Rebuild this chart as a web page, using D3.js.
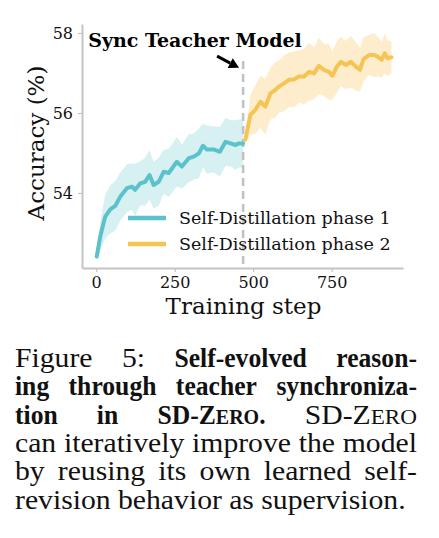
<!DOCTYPE html>
<html>
<head>
<meta charset="utf-8">
<script src="https://cdn.jsdelivr.net/npm/d3@7"></script>
<style>
  html, body { margin: 0; padding: 0; background: #fff; }
  svg { display: block; }
</style>
</head>
<body>
<div id="chart"></div>
<script>
'use strict';

/************************* data *************************/

var steps1 = [2, 13, 29, 45, 61, 77, 98, 114, 124, 140, 156, 170, 183, 199, 215, 231,
              257, 273, 295, 311, 327, 340, 353, 374, 394, 412, 428, 444, 454, 468];
var acc1   = [52.41, 52.91, 53.41, 53.59, 53.68, 53.91, 54.12, 54.16, 54.08, 54.24, 54.28,
              54.45, 54.2, 54.28, 54.53, 54.5, 54.78, 54.66, 54.87, 54.91, 54.99, 55.18,
              55.09, 55.09, 55.03, 55.28, 55.24, 55.2, 55.24, 55.24];
var err1   = [0.1, 0.35, 0.55, 0.6, 0.62, 0.6, 0.6, 0.58, 0.65, 0.55, 0.6, 0.62, 0.58, 0.6,
              0.55, 0.6, 0.62, 0.55, 0.6, 0.58, 0.62, 0.55, 0.6, 0.58, 0.62, 0.6, 0.58,
              0.62, 0.6, 0.6];

var steps2 = [475, 491, 507, 523, 539, 555, 571, 582, 598, 614, 630, 646, 662, 678, 694,
              709, 725, 741, 752, 766, 779, 795, 811, 827, 840, 851, 869, 885, 896, 909,
              919, 928, 940];
var acc2   = [55.33, 55.95, 56.08, 56.28, 56.16, 56.49, 56.58, 56.66, 56.74, 56.83, 56.84,
              56.91, 56.91, 57.03, 56.99, 57.18, 57.08, 57.03, 56.93, 57.15, 57.28, 57.2,
              57.28, 57.16, 57.08, 57.34, 57.45, 57.45, 57.41, 57.33, 57.49, 57.37, 57.39];
var err2   = [0.05, 0.5, 0.6, 0.65, 0.7, 0.65, 0.7, 0.65, 0.7, 0.68, 0.7, 0.65, 0.7, 0.72,
              0.65, 0.7, 0.65, 0.7, 0.6, 0.65, 0.62, 0.6, 0.65, 0.6, 0.55, 0.55, 0.5, 0.55,
              0.5, 0.45, 0.5, 0.45, 0.4];

var xTicks = [0, 250, 500, 750];
var yTicks = [54, 56, 58];
var syncStep = 468;
var seriesNames = ["Self-Distillation phase 1", "Self-Distillation phase 2"];
var annotationText = "Sync Teacher Model";

/******************************* dimensions **********************************/

var width = 439, height = 538;
var plotLeft = 82, plotRight = 403, plotTop = 24, plotBottom = 268;
var tealLine = "#5bc2cc", tealBand = "#d7f0f2";
var gold = "#f6c452", goldBand = "#fdedcc";
var spine = "#c4c4c4";
var serif = "'DejaVu Serif', serif";

var svg = d3.select("#chart").append("svg")
    .attr("width", width).attr("height", height);

var x = d3.scaleLinear().domain([-45, 977]).range([plotLeft, plotRight]);
var y = d3.scaleLinear().domain([52.125, 58.225]).range([plotBottom, plotTop]);

/******************************* bands + lines *******************************/

function rows(s, a, e) {
  return s.map(function(d, i) { return {s: d, a: a[i], e: e[i]}; });
}
var phase1 = rows(steps1, acc1, err1);
var phase2 = rows(steps2, acc2, err2);

var area = d3.area()
    .x(function(d) { return x(d.s); })
    .y0(function(d) { return y(d.a - d.e); })
    .y1(function(d) { return y(d.a + d.e); });
var line = d3.line()
    .x(function(d) { return x(d.s); })
    .y(function(d) { return y(d.a); });

svg.append("path").datum(phase1).attr("d", area).attr("fill", tealBand);
svg.append("path").datum(phase2).attr("d", area).attr("fill", goldBand);

// dashed sync marker
svg.append("line")
    .attr("x1", x(syncStep)).attr("x2", x(syncStep))
    .attr("y1", y(57.3)).attr("y2", plotBottom)
    .attr("stroke", "#c2c2c2").attr("stroke-width", 2.6)
    .attr("stroke-dasharray", "8,5");

svg.append("path").datum(phase1).attr("d", line)
    .attr("fill", "none").attr("stroke", tealLine).attr("stroke-width", 4)
    .attr("stroke-linejoin", "round").attr("stroke-linecap", "round");
svg.append("path").datum(phase2).attr("d", line)
    .attr("fill", "none").attr("stroke", gold).attr("stroke-width", 4)
    .attr("stroke-linejoin", "round").attr("stroke-linecap", "round");

/*********************************** axes ************************************/

var yAxis = svg.append("g").attr("transform", "translate(" + plotLeft + ",0)")
    .call(d3.axisLeft(y).tickValues(yTicks).tickFormat(d3.format("d"))
      .tickSize(4).tickSizeOuter(0).tickPadding(5));
var xAxis = svg.append("g").attr("transform", "translate(0," + plotBottom + ")")
    .call(d3.axisBottom(x).tickValues(xTicks).tickFormat(d3.format("d"))
      .tickSize(4).tickSizeOuter(0).tickPadding(5));

[xAxis, yAxis].forEach(function(g) {
  g.select(".domain").attr("stroke", spine).attr("stroke-width", 2);
  g.selectAll(".tick line").attr("stroke", spine).attr("stroke-width", 1.2);
  g.selectAll(".tick text").attr("fill", "#111").style("font-family", serif).style("font-size", "16px");
});

svg.append("text")
    .attr("x", (plotLeft + plotRight) / 2 + 1).attr("y", 314)
    .attr("text-anchor", "middle")
    .style("font-family", serif).style("font-size", "23px").attr("fill", "#111")
    .text("Training step");

svg.append("text")
    .attr("transform", "translate(44," + 143 + ") rotate(-90)")
    .attr("text-anchor", "middle")
    .style("font-family", serif).style("font-size", "23px").attr("fill", "#111")
    .text("Accuracy (%)");

/********************************** legend ***********************************/

var legend = svg.append("g");
[tealLine, gold].forEach(function(c, i) {
  var ly = 218 + i * 26;
  legend.append("line").attr("x1", 128).attr("x2", 166).attr("y1", ly).attr("y2", ly)
      .attr("stroke", c).attr("stroke-width", 4.5);
  legend.append("text").attr("x", 179).attr("y", ly + 6)
      .style("font-family", serif).style("font-size", "17.5px").attr("fill", "#111")
      .text(seriesNames[i]);
});

/******************************** annotation *********************************/

svg.append("text")
    .attr("x", x(-25)).attr("y", y(57.65))
    .style("font-family", serif).style("font-size", "19px").style("font-weight", "bold")
    .attr("fill", "#000")
    .text(annotationText);

var ax0 = x(385), ay0 = y(57.42), ax1 = x(455), ay1 = y(57.13);
var ang = Math.atan2(ay1 - ay0, ax1 - ax0);
var headLen = 10, headW = 5.5;
var bx = ax1 - headLen * Math.cos(ang), by = ay1 - headLen * Math.sin(ang);
svg.append("line").attr("x1", ax0).attr("y1", ay0).attr("x2", bx).attr("y2", by)
    .attr("stroke", "#000").attr("stroke-width", 3);
svg.append("path")
    .attr("d", "M" + ax1 + "," + ay1 +
               "L" + (bx - headW * Math.sin(ang)) + "," + (by + headW * Math.cos(ang)) +
               "L" + (bx + headW * Math.sin(ang)) + "," + (by - headW * Math.cos(ang)) + "Z")
    .attr("fill", "#000");

/********************************** caption **********************************/

// each word is a list of segments: [text, bold, smallcaps]
var captionLines = [
  [[["Figure", 0]], [["5:", 0]], [["Self-evolved", 1]], [["reason-", 1]]],
  [[["ing", 1]], [["through", 1]], [["teacher", 1]], [["synchroniza-", 1]]],
  [[["tion", 1]], [["in", 1]], [["SD-Z", 1], ["ERO", 1, 1], [".", 1]], [["SD-Z", 0], ["ERO", 0, 1]]],
  [[["can", 0]], [["iteratively", 0]], [["improve", 0]], [["the", 0]], [["model", 0]]],
  [[["by", 0]], [["reusing", 0]], [["its", 0]], [["own", 0]], [["learned", 0]], [["self-", 0]]],
  [[["revision", 0]], [["behavior", 0]], [["as", 0]], [["supervision.", 0]]]
];
var capLeft = 15, capRight = 417, capTop = 367, capStep = 28.3, capSize = 27;
var capFont = "'Liberation Serif', serif";
var stretchRegular = 1.1, stretchBold = 0.95;

var caption = svg.append("g");
captionLines.forEach(function(words, li) {
  var by = capTop + li * capStep;
  var nodes = words.map(function(segs) {
    var t = caption.append("text")
        .style("font-family", capFont).style("font-size", capSize + "px").attr("fill", "#111");
    segs.forEach(function(s) {
      t.append("tspan").text(s[0])
          .style("font-weight", s[1] ? "bold" : "normal")
          .style("font-size", s[2] ? (capSize * 0.78) + "px" : null);
    });
    return t;
  });
  var k = words.map(function(segs) { return segs[0][1] ? stretchBold : stretchRegular; });
  var widths = nodes.map(function(t, i) { return t.node().getComputedTextLength() * k[i]; });
  var total = d3.sum(widths);
  var last = li === captionLines.length - 1;
  var gap = last ? capSize * 0.27 : (capRight - capLeft - total) / (nodes.length - 1);
  var cx = capLeft;
  nodes.forEach(function(t, i) {
    t.attr("transform", "translate(" + cx + "," + by + ") scale(" + k[i] + ",1)");
    cx += widths[i] + gap;
  });
});
</script>
</body>
</html>
